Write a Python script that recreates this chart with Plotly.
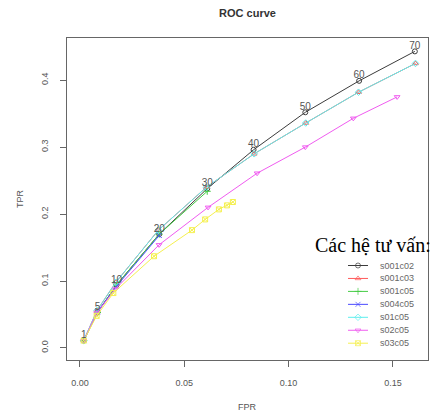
import plotly.graph_objects as go

# ---------------- data ----------------
thresholds = ["1", "5", "10", "20", "30", "40", "50", "60", "70"]

series_names = ["s001c02", "s001c03", "s001c05", "s004c05", "s01c05", "s02c05", "s03c05"]
series_colors = ["#3c3c3c", "#ff5a5a", "#45cc45", "#4a4aff", "#5ceeee", "#f05cf0", "#f5f050"]
series_symbols = ["circle-open", "triangle-up-open", "cross-thin-open", "x-thin-open",
                  "diamond-open", "triangle-down-open", "square-x-open"]

fpr_s001c02 = [0.0018, 0.0084, 0.0175, 0.0380, 0.0610, 0.0832, 0.1080, 0.1338, 0.1605]
tpr_s001c02 = [0.0110, 0.0530, 0.0940, 0.1700, 0.2380, 0.2960, 0.3520, 0.3990, 0.4430]

fpr_s001c03 = [0.0018, 0.0082, 0.0172, 0.0376, 0.0606, 0.0835, 0.1082, 0.1335, 0.1608]
tpr_s001c03 = [0.0110, 0.0560, 0.0980, 0.1760, 0.2400, 0.2900, 0.3360, 0.3820, 0.4250]

fpr_s001c05 = [0.0018, 0.0084, 0.0175, 0.0380, 0.0610]
tpr_s001c05 = [0.0110, 0.0530, 0.0940, 0.1700, 0.2340]

fpr_s004c05 = [0.0018, 0.0084, 0.0175, 0.0380]
tpr_s004c05 = [0.0110, 0.0540, 0.0920, 0.1680]

fpr_s01c05 = [0.0018, 0.0082, 0.0172, 0.0376, 0.0606, 0.0835, 0.1082, 0.1335, 0.1608]
tpr_s01c05 = [0.0110, 0.0560, 0.0980, 0.1760, 0.2400, 0.2900, 0.3360, 0.3820, 0.4250]

fpr_s02c05 = [0.0018, 0.0080, 0.0170, 0.0379, 0.0614, 0.0849, 0.1080, 0.1310, 0.1520]
tpr_s02c05 = [0.0110, 0.0520, 0.0880, 0.1540, 0.2100, 0.2610, 0.3000, 0.3430, 0.3750]

fpr_s03c05 = [0.0018, 0.0080, 0.0160, 0.0355, 0.0537, 0.0600, 0.0666, 0.0705, 0.0733]
tpr_s03c05 = [0.0110, 0.0480, 0.0820, 0.1370, 0.1760, 0.1920, 0.2070, 0.2130, 0.2180]

series_fpr = [fpr_s001c02, fpr_s001c03, fpr_s001c05, fpr_s004c05, fpr_s01c05, fpr_s02c05, fpr_s03c05]
series_tpr = [tpr_s001c02, tpr_s001c03, tpr_s001c05, tpr_s004c05, tpr_s01c05, tpr_s02c05, tpr_s03c05]

x_ticks = [0.0, 0.05, 0.10, 0.15]
x_ticktext = ["0.00", "0.05", "0.10", "0.15"]
y_ticks = [0.0, 0.1, 0.2, 0.3, 0.4]
y_ticktext = ["0.0", "0.1", "0.2", "0.3", "0.4"]

legend_title = "Các hệ tư vấn:"

# ---------------- figure ----------------
W, H = 434, 413
ML, MR, MT, MB = 67, 6, 38, 53
PX0, PX1 = ML, W - MR
PY0, PY1 = MT, H - MB

fig = go.Figure()
sans = "Liberation Sans, Arial, sans-serif"

for name, col, sym, xs, ys in zip(series_names, series_colors, series_symbols, series_fpr, series_tpr):
    fig.add_trace(go.Scatter(
        x=xs, y=ys, mode="lines+markers", name=name,
        line=dict(color=col, width=1),
        marker=dict(symbol=sym, size=5, color=col, line=dict(color=col, width=1)),
        showlegend=False, cliponaxis=False))

# threshold annotations above the first series
fig.add_trace(go.Scatter(
    x=fpr_s001c02, y=tpr_s001c02, mode="text", text=thresholds,
    textposition="top center", textfont=dict(family=sans, size=10, color="#555"),
    showlegend=False, cliponaxis=False))

# manual legend (pixel-like overlay axes)
row0, step = 265.5, 12.95
for i, (name, col, sym) in enumerate(zip(series_names, series_colors, series_symbols)):
    yy = row0 + i * step
    fig.add_trace(go.Scatter(
        x=[348, 358, 368], y=[yy, yy, yy], xaxis="x2", yaxis="y2",
        mode="lines+markers", line=dict(color=col, width=1),
        marker=dict(symbol=sym, size=[0, 5, 0], color=col, line=dict(color=col, width=1)),
        showlegend=False, hoverinfo="skip"))
    fig.add_annotation(x=378, y=yy, xref="x2", yref="y2", text=name, showarrow=False,
                       xanchor="left", yanchor="middle",
                       font=dict(family=sans, size=9, color="#666"))

fig.add_annotation(x=(433 - PX0) / (PX1 - PX0), y=(PY1 - 245) / (PY1 - PY0),
                   xref="paper", yref="paper", text=legend_title, showarrow=False,
                   xanchor="right", yanchor="middle",
                   font=dict(family="Liberation Serif, Times New Roman, serif", size=20, color="#000"))

# axis titles
fig.add_annotation(x=0.5, y=(PY1 - 407) / (PY1 - PY0), xref="paper", yref="paper",
                   text="FPR", showarrow=False, xanchor="center", yanchor="middle",
                   font=dict(family=sans, size=9, color="#555"))
fig.add_annotation(x=(20 - PX0) / (PX1 - PX0), y=0.5, xref="paper", yref="paper",
                   text="TPR", showarrow=False, textangle=-90, xanchor="center", yanchor="middle",
                   font=dict(family=sans, size=9, color="#555"))

axis_common = dict(showline=True, mirror=True, linecolor="#666", linewidth=1,
                   ticks="outside", ticklen=6, tickcolor="#666", tickwidth=1,
                   showgrid=False, zeroline=False,
                   tickfont=dict(family=sans, size=9, color="#555"))

fig.update_layout(
    width=W, height=H,
    margin=dict(l=ML, r=MR, t=MT, b=MB),
    plot_bgcolor="white", paper_bgcolor="white",
    showlegend=False,
    title=dict(text="<b>ROC curve</b>", x=0.5, xref="paper", xanchor="center",
               y=1 - 13 / H, yref="container", yanchor="middle",
               font=dict(family=sans, size=11, color="#333")),
    xaxis=dict(range=[-0.0062, 0.1668], tickvals=x_ticks, ticktext=x_ticktext,
               ticklabelstandoff=8, **axis_common),
    yaxis=dict(range=[-0.018, 0.463], tickvals=y_ticks, ticktext=y_ticktext,
               tickangle=-90, ticklabelstandoff=8, **axis_common),
    xaxis2=dict(range=[PX0, PX1], overlaying="x", anchor="y2", visible=False, fixedrange=True),
    yaxis2=dict(range=[PY1, PY0], overlaying="y", anchor="x2", visible=False, fixedrange=True),
)

fig.write_html("out.html")
